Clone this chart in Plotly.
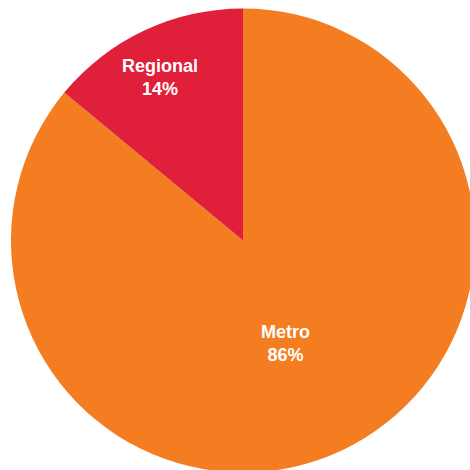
import math
import plotly.graph_objects as go

# Share of locations by area type
labels = ["Metro", "Regional"]
values = [86, 14]
colors = ["#F47D22", "#E01F3A"]

# label distance from the centre, as a fraction of the radius
label_radius = [0.478, 0.79]
label_shift = (-4.5, 3.0)  # small pixel nudge applied to every label

W = H = 480
cx, cy, r = 243, 240.5, 232  # pie centre/radius in pixels (from top-left)

fig = go.Figure(
    go.Pie(
        labels=labels,
        values=values,
        sort=False,
        direction="clockwise",
        marker=dict(colors=colors, line=dict(width=0)),
        textinfo="none",
        hoverinfo="skip",
        showlegend=False,
        domain=dict(
            x=[(cx - r) / W, (cx + r) / W],
            y=[(H - cy - r) / H, (H - cy + r) / H],
        ),
    )
)

# slice labels, placed along each slice's middle ray (slices run clockwise from 12 o'clock)
total = sum(values)
start = 0.0
for lab, v, f in zip(labels, values, label_radius):
    mid = start + v / total * 360 / 2
    start += v / total * 360
    a = math.radians(mid)
    px = cx + f * r * math.sin(a) + label_shift[0]
    py = cy - f * r * math.cos(a) + label_shift[1]
    fig.add_annotation(
        x=px / W,
        y=1 - py / H,
        xref="paper",
        yref="paper",
        xanchor="center",
        yanchor="middle",
        showarrow=False,
        text=f"<b>{lab}<br>{round(v / total * 100)}%</b>",
        font=dict(family="Liberation Sans, Arial, sans-serif", size=18, color="white"),
        align="center",
    )

fig.update_layout(
    width=W,
    height=H,
    margin=dict(l=0, r=0, t=0, b=0),
    paper_bgcolor="white",
    plot_bgcolor="white",
)

fig.write_html(
    "out.html",
    post_script="document.documentElement.style.overflow='hidden';document.body.style.overflow='hidden';document.body.style.margin='0';",
)
